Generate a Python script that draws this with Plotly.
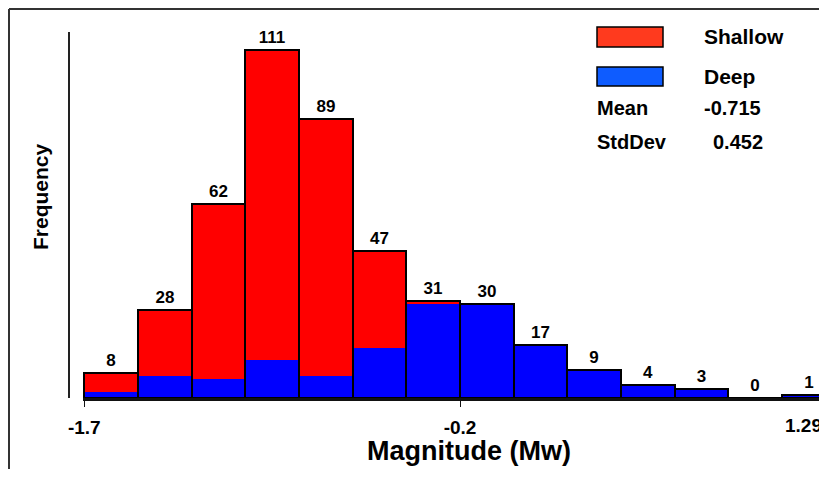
import plotly.graph_objects as go

# ---- data ----
bin_left_edges = [-1.70, -1.4857, -1.2714, -1.0571, -0.8429, -0.6286, -0.4143,
                  -0.20, 0.0143, 0.2286, 0.4429, 0.6571, 0.8714, 1.0857]
bin_width = 0.2143
deep_counts = [2, 7, 6, 12, 7, 16, 30, 30, 17, 9, 4, 3, 0, 1]
shallow_counts = [6, 21, 56, 99, 82, 31, 1, 0, 0, 0, 0, 0, 0, 0]
total_counts = [d + s for d, s in zip(deep_counts, shallow_counts)]
tick_values = [-1.7, -0.2]
tick_labels = ["-1.7", "-0.2"]
right_label = "1.29"
stats_labels = ["Mean", "StdDev"]
stats_values = ["-0.715", "0.452"]

# page body has an 8px default margin on every side; size the figure so the
# page never overflows (no scrollbars)
OFF = 8
W, H = 827 - OFF, 477 - 2 * OFF
def px(x):
    return (x - OFF) / W
def py(y):
    return 1 - (y - OFF) / H

FONT = "Liberation Sans, Arial, Helvetica, sans-serif"
RED = "#FF0000"
BLUE = "#0000FF"

fig = go.Figure()
fig.add_trace(go.Bar(
    x=bin_left_edges, y=shallow_counts, base=deep_counts,
    width=bin_width, offset=0,
    marker=dict(color=RED, line=dict(width=0)),
    showlegend=False, hoverinfo="skip"))
fig.add_trace(go.Bar(
    x=bin_left_edges, y=deep_counts, base=[0] * len(deep_counts),
    width=bin_width, offset=0,
    marker=dict(color=BLUE, line=dict(width=0)),
    showlegend=False, hoverinfo="skip"))
fig.add_trace(go.Bar(
    x=bin_left_edges, y=total_counts, base=[0] * len(total_counts),
    width=bin_width, offset=0,
    marker=dict(color="rgba(0,0,0,0)", line=dict(width=2, color="black")),
    text=[str(t) for t in total_counts], textposition="outside",
    textfont=dict(family=FONT, size=17, color="black", weight="bold"),
    cliponaxis=False, showlegend=False, hoverinfo="skip"))

fig.update_layout(
    width=W, height=H, autosize=False,
    margin=dict(l=0, r=0, t=0, b=0, autoexpand=False),
    paper_bgcolor="white", plot_bgcolor="white",
    barmode="overlay", bargap=0,
    font=dict(family=FONT, color="black"),
    xaxis=dict(
        domain=[px(83), 1],
        range=[-1.705, 1.265],
        automargin=False,
        showgrid=False, zeroline=False,
        showline=True, linewidth=2.5, linecolor="#111",
        ticks="outside", ticklen=6, tickwidth=1.2, tickcolor="#111",
        tickvals=tick_values, ticktext=tick_labels,
        tickfont=dict(family=FONT, size=19, color="black", weight="bold"),
        ticklabelstandoff=4,
    ),
    yaxis=dict(
        domain=[py(398), py(32)],
        range=[0, 116.7],
        automargin=False,
        anchor="free", position=px(69),
        showgrid=False, zeroline=False,
        showline=True, linewidth=2, linecolor="#222",
        showticklabels=False, ticks="",
    ),
)

shapes = [
    dict(type="line", xref="paper", yref="paper",
         x0=px(9), y0=py(9), x1=1, y1=py(9),
         line=dict(color="#333", width=2), layer="below"),
    dict(type="line", xref="paper", yref="paper",
         x0=px(9), y0=py(9), x1=px(9), y1=0,
         line=dict(color="#333", width=2), layer="below"),
    dict(type="rect", xref="paper", yref="paper",
         x0=px(597), y0=py(47), x1=px(663), y1=py(27),
         line=dict(color="black", width=1.5), fillcolor="#FF3A1E"),
    dict(type="rect", xref="paper", yref="paper",
         x0=px(597), y0=py(86), x1=px(663), y1=py(67),
         line=dict(color="black", width=1.5), fillcolor="#0E5CFF"),
]

bold = dict(family=FONT, color="black", weight="bold")
def note(text, x, y, size, xanchor="left", angle=0):
    return dict(text=text, x=px(x), y=py(y), xref="paper", yref="paper",
                xanchor=xanchor, yanchor="middle", showarrow=False,
                textangle=angle, font=dict(size=size, **bold))

annotations = [
    note("Shallow", 702, 37, 21),
    note("Deep", 702, 76, 21),
    note(stats_labels[0], 595, 108, 20),
    note(stats_values[0], 702, 108, 20),
    note(stats_labels[1], 595, 142, 20),
    note(stats_values[1], 711, 142, 20),
    note(right_label, 803, 425, 19, xanchor="center"),
    note("Magnitude (Mw)", 469, 451, 27, xanchor="center"),
    note("Frequency", 40, 197, 21, xanchor="center", angle=-90),
]
fig.update_layout(shapes=shapes, annotations=annotations)

fig.write_html("out.html")
